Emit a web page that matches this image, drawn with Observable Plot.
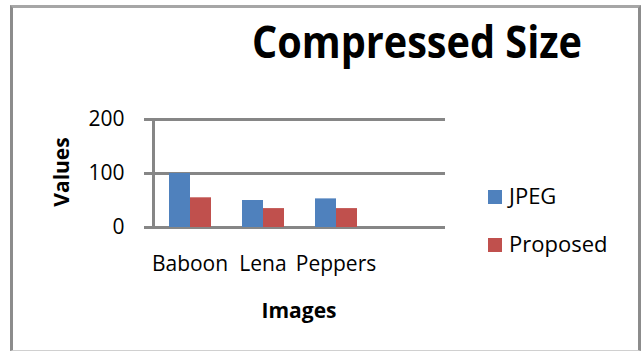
<!DOCTYPE html>
<html>
<head>
<meta charset="utf-8">
<script src="https://cdn.jsdelivr.net/npm/d3@7"></script>
<script src="https://cdn.jsdelivr.net/npm/@observablehq/plot@0.6"></script>
<style>
  html, body { margin: 0; padding: 0; background: #fff; }
  #wrap { position: relative; width: 641px; height: 351px; overflow: hidden; background: #fff; }
  #border { position: absolute; left: 10px; top: 5px; width: 631px; height: 346px; box-sizing: border-box;
            border: 3px solid #8c8c8c; border-top-color: #a6a6a6; border-bottom: 1px solid #d0d0d0; }
  #wrap svg { position: absolute; left: 0; top: 0; }
</style>
</head>
<body>
<div id="wrap"><div id="border"></div></div>
<script>
// ---- data ----
const images = ["Baboon", "Lena", "Peppers"];
const series = ["JPEG", "Proposed"];
const jpegValues = [100, 50, 53];
const proposedValues = [55, 35, 35];
const yTicks = [0, 100, 200];
const titleText = "Compressed Size";
const xLabel = "Images";
const yLabel = "Values";
const colors = ["#4F81BD", "#C0504D"];

const data = images.flatMap((img, i) => [
  {image: img, series: series[0], value: jpegValues[i]},
  {image: img, series: series[1], value: proposedValues[i]}
]);

// the category axis keeps one empty slot at the end
const fxDomain = [...images, ""];
const gridData = fxDomain.flatMap(f => yTicks.map(t => ({image: f, tick: t})));

const grey = "#868686";

const chart = Plot.plot({
  width: 641,
  height: 351,
  marginLeft: 152,
  marginRight: 196,
  marginTop: 119,
  marginBottom: 124,
  style: {fontFamily: "'Open Sans', sans-serif", background: "transparent", color: "black"},
  fx: {domain: fxDomain, padding: 0, label: null},
  x: {domain: series, paddingInner: 0, paddingOuter: 0.738, axis: null},
  y: {domain: [0, 200], label: null},
  color: {domain: series, range: colors},
  marks: [
    Plot.ruleY(gridData, {fx: "image", y: "tick", stroke: grey, strokeWidth: 3}),
    Plot.barY(data, {fx: "image", x: "series", y: "value", fill: "series"}),
    Plot.frame({anchor: "left", facetAnchor: "left", stroke: grey, strokeWidth: 3}),
    Plot.axisY({ticks: yTicks, tickSize: 9, tickPadding: 20, fontSize: 21, stroke: grey, strokeWidth: 3, fill: "black", label: null}),
    Plot.axisFx({anchor: "bottom", tickSize: 0, tickPadding: 29, fontSize: 21, fill: "black", label: null, letterSpacing: "-0.4px"})
  ]
});

document.getElementById("wrap").appendChild(chart);

const svg = d3.select(chart);
const font = "'Open Sans', sans-serif";

// Title
svg.append("text")
  .attr("x", 417).attr("y", 58)
  .attr("text-anchor", "middle")
  .attr("font-family", font).attr("font-weight", "bold").attr("font-size", 45)
  .attr("textLength", 330).attr("lengthAdjust", "spacingAndGlyphs")
  .attr("fill", "black")
  .text(titleText);

// Axis titles
svg.append("text")
  .attr("x", 299).attr("y", 318)
  .attr("text-anchor", "middle")
  .attr("font-family", font).attr("font-weight", "bold").attr("font-size", 21)
  .attr("fill", "black")
  .text(xLabel);

svg.append("text")
  .attr("transform", "translate(69,172) rotate(-90)")
  .attr("text-anchor", "middle")
  .attr("font-family", font).attr("font-weight", "bold").attr("font-size", 21)
  .attr("fill", "black")
  .text(yLabel);

// Legend
const color = chart.scale("color");
const legendRows = [{y: 190, ty: 204}, {y: 238, ty: 252}];
series.forEach((s, i) => {
  const g = svg.append("g");
  g.append("rect")
    .attr("x", 488).attr("y", legendRows[i].y).attr("width", 14).attr("height", 14)
    .attr("fill", color.apply(s));
  g.append("text")
    .attr("x", 509).attr("y", legendRows[i].ty)
    .attr("text-anchor", "start")
    .attr("font-family", font).attr("font-size", 22)
    .attr("fill", "black")
    .text(s);
});
</script>
</body>
</html>
